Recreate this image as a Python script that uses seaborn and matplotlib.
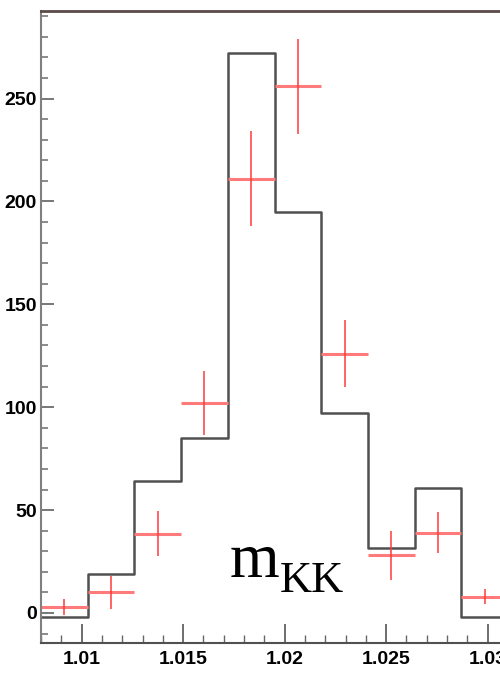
import numpy as np
import pandas as pd
import matplotlib
matplotlib.use("Agg")
import matplotlib.pyplot as plt
from matplotlib.ticker import MultipleLocator
import seaborn as sns

# Binning of the K+K- invariant mass (GeV)
bin_edges = [1.008, 1.0103, 1.0126, 1.0149, 1.0172, 1.0195,
             1.0218, 1.0241, 1.0264, 1.0287, 1.031]
# Simulated distribution (black histogram)
mc_counts = [-2, 19, 64, 85, 272, 195, 97, 31.5, 60.5, -2]
# Measured data with statistical errors (red crosses)
data_counts = [3, 10, 38.5, 102, 211, 256, 126, 28, 39, 8]
data_errors = [4, 8, 11, 15.5, 23, 23, 16.3, 12, 10, 3.6]

x_major = [1.01, 1.015, 1.02, 1.025, 1.03]
x_labels = ["1.01", "1.015", "1.02", "1.025", "1.03"]
y_major = [0, 50, 100, 150, 200, 250]
y_labels = ["0", "50", "100", "150", "200", "250"]

sns.set_theme(style="white")
plt.rcParams["font.family"] = ["Liberation Sans", "DejaVu Sans"]

edges = np.array(bin_edges)
centers = 0.5 * (edges[:-1] + edges[1:])
half_w = 0.5 * np.diff(edges)
df = pd.DataFrame({"mass": centers, "mc": mc_counts,
                   "data": data_counts, "err": data_errors})

fig = plt.figure(figsize=(5.0, 6.78), dpi=100)
ax = fig.add_axes([0.082, 0.0516, 0.934, 0.9329])

sns.histplot(data=df, x="mass", weights="mc", bins=list(bin_edges), element="step",
             fill=False, color="#505050", linewidth=1.8, ax=ax)

# data points: horizontal bin-width bars and vertical error bars
ax.errorbar(df["mass"], df["data"], xerr=half_w, fmt="none",
            ecolor="#ff7a7a", elinewidth=2.2, capsize=0)
ax.errorbar(df["mass"], df["data"], yerr=df["err"], fmt="none",
            ecolor="#ff3b3b", elinewidth=1.1, capsize=0)

ax.set_xlim(1.008, 1.031)
ax.set_ylim(-14.6, 292.8)
ax.set_xlabel("")
ax.set_ylabel("")

ax.set_xticks(x_major)
ax.set_xticklabels(x_labels)
ax.xaxis.set_minor_locator(MultipleLocator(0.001))
ax.set_yticks(y_major)
ax.set_yticklabels(y_labels)
ax.yaxis.set_minor_locator(MultipleLocator(10))

ax.tick_params(axis="x", which="major", direction="in", length=14, width=1.2,
               color="#555555", labelsize=14, labelcolor="black", pad=6, bottom=True)
ax.tick_params(axis="x", which="minor", direction="in", length=6, width=1.0,
               color="#666666", bottom=True)
ax.tick_params(axis="y", which="major", direction="in", length=9.5, width=1.4,
               color="#777777", labelsize=14, labelcolor="black", pad=3, left=True)
ax.tick_params(axis="y", which="minor", direction="in", length=5, width=1.2,
               color="#777777", left=True)
for lab in ax.get_xticklabels() + ax.get_yticklabels():
    lab.set_fontweight("bold")

for side in ["left", "right", "top", "bottom"]:
    ax.spines[side].set_visible(True)
ax.spines["left"].set_color("#808080")
ax.spines["left"].set_linewidth(1.5)
ax.spines["bottom"].set_color("#505050")
ax.spines["bottom"].set_linewidth(1.5)
ax.spines["top"].set_color("#5a4a48")
ax.spines["top"].set_linewidth(2.0)

# variable name: "m" with a lowered "KK" subscript
fig.text(230 / 500, 1 - 577 / 678, "m", family="Liberation Serif",
         fontsize=46, ha="left", va="baseline", color="black")
fig.text(280 / 500, 1 - 592 / 678, "KK", family="Liberation Serif",
         fontsize=32, ha="left", va="baseline", color="black")

fig.savefig("out.png", dpi=100, facecolor="white")
